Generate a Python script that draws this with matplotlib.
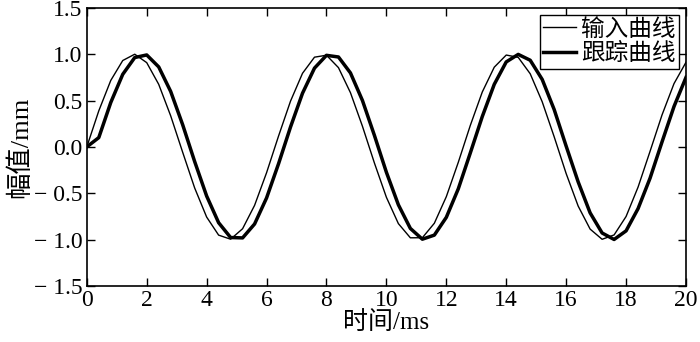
import matplotlib
matplotlib.use("Agg")
import matplotlib.pyplot as plt

plt.rcParams['font.family'] = ['Liberation Serif', 'Noto Sans CJK SC']
plt.rcParams['axes.unicode_minus'] = True

# 时间 (ms), 采样间隔 0.4 ms
t = [round(0.4 * k, 1) for k in range(51)]

# 输入曲线
y_in = [0.000, 0.389, 0.717, 0.932, 1.000, 0.909, 0.675, 0.335, -0.058, -0.443,
        -0.757, -0.952, -0.996, -0.883, -0.631, -0.279, 0.117, 0.494, 0.794, 0.968,
        0.989, 0.855, 0.585, 0.223, -0.174, -0.544, -0.828, -0.981, -0.980, -0.824,
        -0.537, -0.166, 0.231, 0.592, 0.860, 0.991, 0.966, 0.789, 0.487, 0.109,
        -0.288, -0.638, -0.887, -0.997, -0.950, -0.751, -0.434, -0.048, 0.345, 0.683,
        0.913]

# 跟踪曲线
y_track = [0.000, 0.100, 0.479, 0.783, 0.964, 0.992, 0.863, 0.598, 0.239, -0.158,
           -0.530, -0.818, -0.978, -0.982, -0.832, -0.551, -0.182, 0.215, 0.579, 0.850,
           0.988, 0.970, 0.798, 0.501, 0.124, -0.274, -0.625, -0.880, -0.996, -0.952,
           -0.760, -0.452, -0.066, 0.327, 0.675, 0.917, 0.998, 0.935, 0.728, 0.403,
           0.008, -0.377, -0.712, -0.929, -0.999, -0.906, -0.666, -0.338, 0.054, 0.436,
           0.750]

xticks = [0, 2, 4, 6, 8, 10, 12, 14, 16, 18, 20]
yticks = [-1.5, -1.0, -0.5, 0.0, 0.5, 1.0, 1.5]

fig = plt.figure(figsize=(7, 3.42), dpi=100)
ax = fig.add_axes([0.124, 0.164, 0.856, 0.813])

ax.plot(t, y_in, color="black", linewidth=1.0, label="输入曲线")
ax.plot(t, y_track, color="black", linewidth=2.5, label="跟踪曲线")

ax.set_xlim(0, 20)
ax.set_ylim(-1.5, 1.5)
ax.set_xticks(xticks)
ax.set_xticklabels([str(v) for v in xticks])
ax.set_yticks(yticks)
ax.set_yticklabels(["\u2212 1.5", "\u2212 1.0", "\u2212 0.5", "0.0", "0.5", "1.0", "1.5"])
ax.tick_params(direction="in", top=True, right=True, length=6, width=1,
               labelsize=17, pad=3, colors="black")
for s in ax.spines.values():
    s.set_linewidth(1.2)

ax.set_xlabel("时间/ms", fontsize=18, labelpad=0)
ax.set_ylabel("幅值/mm", fontsize=19, labelpad=1)

leg = ax.legend(loc="upper right", fontsize=17, frameon=True, fancybox=False,
                edgecolor="black", framealpha=1, borderpad=0.15, handlelength=1.4,
                handletextpad=0.2, labelspacing=0.12, borderaxespad=0.3)
leg.get_frame().set_linewidth(1.0)

fig.savefig("out.png", dpi=100)
